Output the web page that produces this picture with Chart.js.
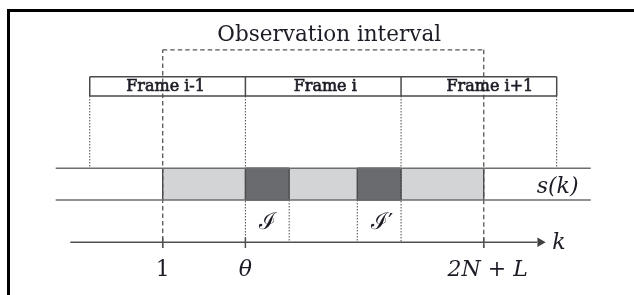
<!DOCTYPE html>
<html>
<head>
<meta charset="utf-8">
<script src="https://cdn.jsdelivr.net/npm/chart.js@4"></script>
<style>
    html, body { margin: 0; padding: 0; background: #fff; overflow: hidden; }
</style>
</head>
<body>
<canvas id="diagram" width="634" height="295"></canvas>
<script>
// ---------------------------------------------------------------------------
// Data (sample index k; N = 32, L = 3)
// ---------------------------------------------------------------------------
const frameNames = ['Frame i-1', 'Frame i', 'Frame i+1'];
const frameEdges = [-14, 18, 50, 82];
const obsInterval = [1, 67];          // 1 .. 2N+L
const blockI = [18, 27];              // I
const blockI2 = [41, 50];             // I'
const signalSpan = [-21, 89];
const axisSpan = [-18, 78];
const tickValues = [1, 18, 67];
const tickLabels = ['1', 'θ', '2N + L'];
const blockLabels = ['ℐ', 'ℐ′'];

// ---------------------------------------------------------------------------
// Layout rows (vertical positions of the drawing)
// ---------------------------------------------------------------------------
const ROW = { title: 31, obsTop: 46, frameTop: 74, frameBot: 94, sigTop: 169, sigBot: 202,
              blockLbl: 224, axis: 246, tickTop: 241, tickBot: 252, tickLbl: 272 };

const SERIF = '"DejaVu Serif", "Liberation Serif", serif';
const INK = '#1c1c26';

// ---------------------------------------------------------------------------
// Helpers
// ---------------------------------------------------------------------------
function segs(list) {
    const out = [];
    list.forEach(([x1, y1, x2, y2]) => {
        out.push({ x: x1, y: y1 }, { x: x2, y: y2 }, { x: x2, y: null });
    });
    return out;
}

function line(data, color, width, dash) {
    return {
        data, showLine: true, spanGaps: false, fill: false,
        borderColor: color, borderWidth: width, borderDash: dash || [],
        pointRadius: 0, tension: 0,
    };
}

function band(span, top, bot, color) {
    return {
        data: [{ x: span[0], y: top }, { x: span[1], y: top }],
        showLine: true, borderWidth: 0, borderColor: 'transparent',
        backgroundColor: color, fill: { value: bot }, pointRadius: 0,
    };
}

function box(span, top, bot) {
    return [[span[0], top, span[1], top], [span[1], top, span[1], bot],
            [span[1], bot, span[0], bot], [span[0], bot, span[0], top]];
}

// ---------------------------------------------------------------------------
// Datasets (listed bottom layer first; Chart.js paints index 0 last, so reversed below)
// ---------------------------------------------------------------------------
const first = frameEdges[0], last = frameEdges[frameEdges.length - 1];

const layers = [
    band(obsInterval, ROW.sigTop, ROW.sigBot, '#d3d4d6'),
    band(blockI, ROW.sigTop, ROW.sigBot, '#6a6b6f'),
    band(blockI2, ROW.sigTop, ROW.sigBot, '#6a6b6f'),
    // dotted drops from the frame header
    line(segs([
        [first, ROW.frameBot, first, ROW.sigTop],
        [last, ROW.frameBot, last, ROW.sigTop],
        ...frameEdges.slice(1, -1).map(e => [e, ROW.frameBot, e, ROW.axis]),
        [blockI[1], ROW.sigBot, blockI[1], ROW.axis],
        [blockI2[0], ROW.sigBot, blockI2[0], ROW.axis],
    ]), '#4a4a4c', 1, [1.5, 1.5]),
    // observation interval (dashed)
    line(segs([
        [obsInterval[0], ROW.tickBot, obsInterval[0], ROW.obsTop],
        [obsInterval[0], ROW.obsTop, obsInterval[1], ROW.obsTop],
        [obsInterval[1], ROW.obsTop, obsInterval[1], ROW.tickBot],
    ]), '#555558', 1.3, [4.5, 3]),
    // block outlines
    line(segs([
        [obsInterval[0], ROW.sigTop, obsInterval[0], ROW.sigBot],
        [obsInterval[1], ROW.sigTop, obsInterval[1], ROW.sigBot],
        ...box(blockI, ROW.sigTop, ROW.sigBot),
        ...box(blockI2, ROW.sigTop, ROW.sigBot),
    ]), '#4c4c50', 1.4),
    // signal rails s(k)
    line(segs([
        [signalSpan[0], ROW.sigTop, signalSpan[1], ROW.sigTop],
        [signalSpan[0], ROW.sigBot, signalSpan[1], ROW.sigBot],
    ]), '#6e6e70', 1.6),
    // frame header
    line(segs([
        ...box([first, last], ROW.frameTop, ROW.frameBot),
        ...frameEdges.slice(1, -1).map(e => [e, ROW.frameTop, e, ROW.frameBot]),
    ]), '#4a4a4c', 1.5),
    // k axis + ticks
    line(segs([
        [axisSpan[0], ROW.axis, axisSpan[1], ROW.axis],
        ...tickValues.map(t => [t, ROW.tickTop, t, ROW.tickBot]),
    ]), '#505052', 1.5),
    // arrow head
    {
        data: [{ x: axisSpan[1] + 0.6, y: ROW.axis }],
        pointStyle: 'triangle', rotation: 90, pointRadius: 5.5,
        backgroundColor: '#404042', borderWidth: 0, showLine: false,
    },
];
const datasets = layers.slice().reverse();

// ---------------------------------------------------------------------------
// Page frame (black rule along the top and left edge)
// ---------------------------------------------------------------------------
const framePlugin = {
    id: 'pageFrame',
    beforeDraw(chart) {
        const ctx = chart.ctx;
        ctx.save();
        ctx.strokeStyle = '#000';
        ctx.lineWidth = 3;
        ctx.beginPath();
        ctx.moveTo(8.5, chart.height + 2);
        ctx.lineTo(8.5, 10.5);
        ctx.lineTo(chart.width + 2, 10.5);
        ctx.stroke();
        ctx.restore();
    },
};

// ---------------------------------------------------------------------------
// Text layer
// ---------------------------------------------------------------------------
const frameNudge = [-2, 2, 11];

const textPlugin = {
    id: 'diagramText',
    afterDatasetsDraw(chart) {
        const { ctx, scales: { x, y } } = chart;
        ctx.save();
        ctx.fillStyle = INK;
        ctx.strokeStyle = INK;
        ctx.textBaseline = 'alphabetic';
        ctx.textAlign = 'center';

        const mid = (a, b) => (x.getPixelForValue(a) + x.getPixelForValue(b)) / 2;

        ctx.font = '21.5px ' + SERIF;
        ctx.fillText('Observation interval', mid(obsInterval[0], obsInterval[1]) + 6, y.getPixelForValue(ROW.title) + 6);

        ctx.font = '16px ' + SERIF;
        ctx.lineWidth = 0.6;
        frameNames.forEach((name, i) => {
            const px = mid(frameEdges[i], frameEdges[i + 1]) + frameNudge[i];
            const py = y.getPixelForValue(ROW.frameBot) - 5;
            ctx.fillText(name, px, py);
            ctx.strokeText(name, px, py);
        });

        ctx.font = '23px ' + SERIF;
        ctx.fillText(blockLabels[0], mid(blockI[0], blockI[1]), y.getPixelForValue(ROW.blockLbl) + 8);
        ctx.fillText(blockLabels[1], mid(blockI2[0], blockI2[1]) + 3, y.getPixelForValue(ROW.blockLbl) + 8);

        ctx.font = 'italic 22px ' + SERIF;
        ctx.textAlign = 'left';
        ctx.fillText('s(k)', x.getPixelForValue(signalSpan[1]) - 54, y.getPixelForValue(ROW.sigBot) - 7);
        ctx.fillText('k', x.getPixelForValue(axisSpan[1]) + 15, y.getPixelForValue(ROW.axis) + 7);

        ctx.textAlign = 'center';
        tickLabels.forEach((lbl, i) => {
            ctx.font = (i === 0 ? '' : 'italic ') + '22px ' + SERIF;
            ctx.fillText(lbl, x.getPixelForValue(tickValues[i]) + (i === 2 ? 4 : 0), y.getPixelForValue(ROW.tickLbl) + 9);
        });
        ctx.restore();
    },
};

// ---------------------------------------------------------------------------
// Chart
// ---------------------------------------------------------------------------
new Chart(document.getElementById('diagram'), {
    type: 'scatter',
    data: { datasets },
    options: {
        responsive: false,
        animation: false,
        layout: { padding: 0 },
        plugins: { legend: { display: false }, tooltip: { enabled: false } },
        scales: {
            x: { type: 'linear', min: -31.32, max: -31.32 + 634 / 4.95, display: false },
            y: { type: 'linear', min: 0, max: 295, reverse: true, display: false },
        },
    },
    plugins: [framePlugin, textPlugin],
});
</script>
</body>
</html>
